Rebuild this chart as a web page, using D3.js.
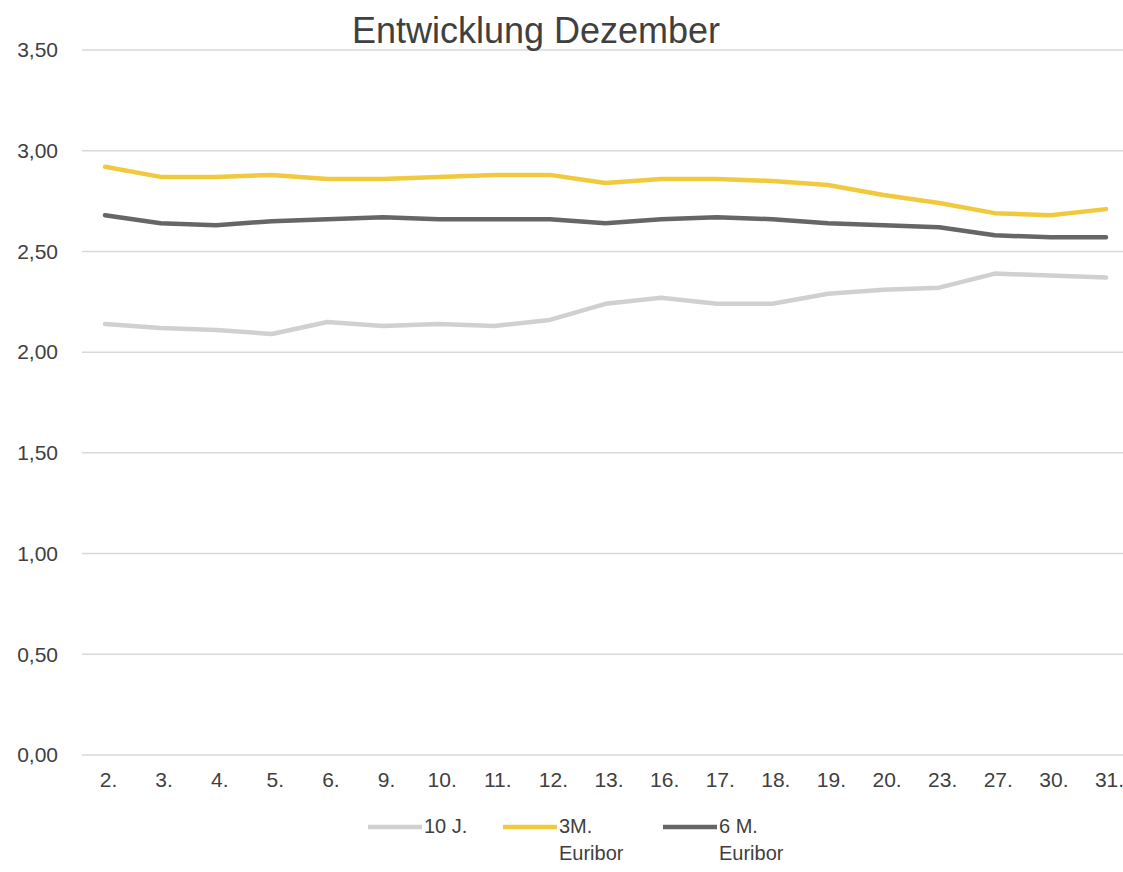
<!DOCTYPE html>
<html>
<head>
<meta charset="utf-8">
<script src="https://cdn.jsdelivr.net/npm/d3@7"></script>
<style>
  body { margin: 0; background: #fff; }
  svg text { font-family: "Liberation Sans", Arial, sans-serif; fill: #404040; }
</style>
</head>
<body>
<svg class="chart" width="1123" height="872"></svg>
<script>
const days = ["2.", "3.", "4.", "5.", "6.", "9.", "10.", "11.", "12.", "13.", "16.", "17.", "18.", "19.", "20.", "23.", "27.", "30.", "31."]
const zehnJahre = [2.14, 2.12, 2.11, 2.09, 2.15, 2.13, 2.14, 2.13, 2.16, 2.24, 2.27, 2.24, 2.24, 2.29, 2.31, 2.32, 2.39, 2.38, 2.37]
const euribor3M = [2.92, 2.87, 2.87, 2.88, 2.86, 2.86, 2.87, 2.88, 2.88, 2.84, 2.86, 2.86, 2.85, 2.83, 2.78, 2.74, 2.69, 2.68, 2.71]
const euribor6M = [2.68, 2.64, 2.63, 2.65, 2.66, 2.67, 2.66, 2.66, 2.66, 2.64, 2.66, 2.67, 2.66, 2.64, 2.63, 2.62, 2.58, 2.57, 2.57]
const yTicks = [0, 0.5, 1, 1.5, 2, 2.5, 3, 3.5]

const series = [
  {name: ["10 J."], values: zehnJahre, color: "#d0d0d0"},
  {name: ["3M.", "Euribor"], values: euribor3M, color: "#f0ca3c"},
  {name: ["6 M.", "Euribor"], values: euribor6M, color: "#666666"}
]

const svg = d3.select('.chart')
const x = d3.scalePoint(days, [105, 1106])
const y = d3.scaleLinear([0, 3.5], [755, 50])
const fmt = v => d3.format('.2f')(v).replace('.', ',')

// grid
svg.append('g')
  .selectAll('line')
  .data(yTicks)
  .join('line')
  .attr('x1', 82)
  .attr('x2', 1123)
  .attr('y1', d => y(d))
  .attr('y2', d => y(d))
  .attr('stroke', '#d9d9d9')
  .attr('stroke-width', 1.5)

// y axis labels
const yAxis = d3.axisLeft(y).tickValues(yTicks).tickFormat(fmt).tickSize(0).tickPadding(0)
svg.append('g')
  .attr('transform', 'translate(58,0)')
  .call(yAxis)
  .call(g => g.select('.domain').remove())
  .call(g => g.selectAll('text').attr('font-size', '21px').attr('fill', '#404040').attr('font-family', '"Liberation Sans", Arial, sans-serif'))

// x axis labels
const xAxis = d3.axisBottom(x).tickSize(0).tickPadding(0)
svg.append('g')
  .attr('transform', 'translate(3,772)')
  .call(xAxis)
  .call(g => g.select('.domain').remove())
  .call(g => g.selectAll('text').attr('font-size', '21px').attr('fill', '#404040').attr('font-family', '"Liberation Sans", Arial, sans-serif'))

// lines
const line = d3.line()
  .x((d, i) => x(days[i]))
  .y(d => y(d))

svg.append('g')
  .selectAll('path')
  .data(series)
  .join('path')
  .attr('d', d => line(d.values))
  .attr('fill', 'none')
  .attr('stroke', d => d.color)
  .attr('stroke-width', 4.5)
  .attr('stroke-linejoin', 'round')
  .attr('stroke-linecap', 'round')

// title
svg.append('text')
  .text('Entwicklung Dezember')
  .attr('x', 536)
  .attr('y', 43)
  .attr('text-anchor', 'middle')
  .attr('font-size', '36px')

// legend
const legendX = [368, 503, 663]
const legend = svg.append('g')
  .selectAll('g')
  .data(series)
  .join('g')
  .attr('transform', (d, i) => `translate(${legendX[i]},833)`)

legend.append('line')
  .attr('x1', 0)
  .attr('x2', 54)
  .attr('y1', -6)
  .attr('y2', -6)
  .attr('stroke', d => d.color)
  .attr('stroke-width', 4.5)

legend.append('text')
  .attr('x', 56)
  .attr('y', 0)
  .attr('font-size', '20px')
  .selectAll('tspan')
  .data(d => d.name)
  .join('tspan')
  .attr('x', 56)
  .attr('dy', (d, i) => i === 0 ? 0 : 27)
  .text(d => d)
</script>
</body>
</html>
